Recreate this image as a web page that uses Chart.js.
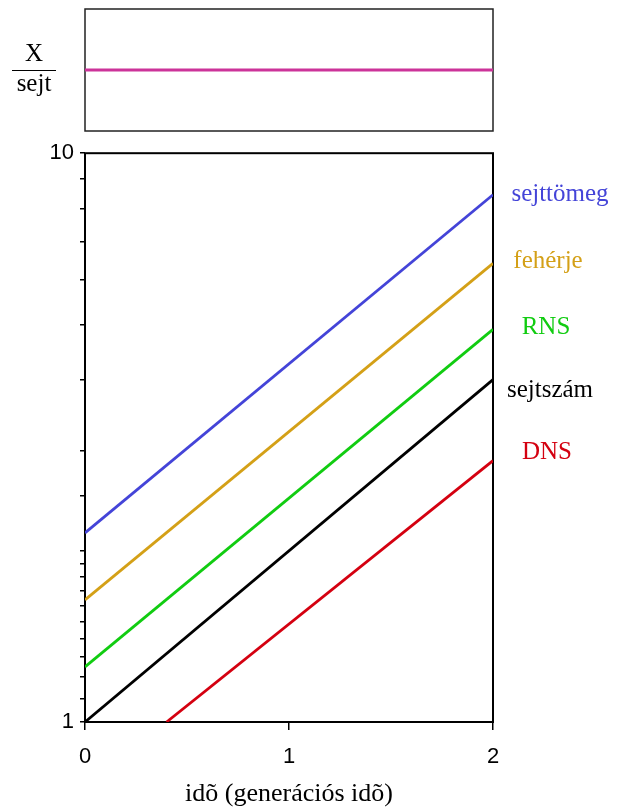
<!DOCTYPE html>
<html>
<head>
<meta charset="utf-8">
<script src="https://cdn.jsdelivr.net/npm/chart.js@4"></script>
<style>
  html, body { margin: 0; padding: 0; background: #fff; }
  #wrap { position: relative; width: 625px; height: 807px; overflow: hidden; }
  #top-chart { position: absolute; left: 0; top: 0; }
  #main-chart { position: absolute; left: 0; top: 134px; }
</style>
</head>
<body>
<div id="wrap">
  <canvas id="top-chart" width="625" height="140"></canvas>
  <canvas id="main-chart" width="625" height="673"></canvas>
</div>
<script>
// idő, generációs időben
const times = [0, 2];
const perCell = [1, 1];            // X / sejt, állandó
const sejttomeg = [2.15, 8.45];
const feherje = [1.64, 6.4];
const rns = [1.25, 4.9];
const sejtszam = [1, 4];
const dnsTimes = [0.4, 2];
const dns = [1, 2.88];
const xTicks = [0, 1, 2];
const yTickLabels = [1, 10];

const serif = 'Liberation Serif';
const sans = 'Liberation Sans';

function points(xs, ys) {
    return xs.map((x, i) => ({ x: x, y: ys[i] }));
}

// keret a rajzterület körül
const frame = {
    id: 'frame',
    beforeDatasetsDraw(chart, args, opts) {
        const { ctx, chartArea: a } = chart;
        ctx.save();
        ctx.strokeStyle = opts.color || '#000';
        ctx.lineWidth = opts.width || 2;
        ctx.strokeRect(a.left, a.top, a.width, a.height);
        ctx.restore();
    }
};

// X / sejt felirat a felső doboz bal oldalán
const fraction = {
    id: 'fraction',
    afterDraw(chart) {
        const { ctx, chartArea: a } = chart;
        const cx = a.left - 51;
        const midY = (a.top + a.bottom) / 2;
        ctx.save();
        ctx.fillStyle = '#000';
        ctx.font = `25px "${serif}"`;
        ctx.textAlign = 'center';
        ctx.textBaseline = 'alphabetic';
        ctx.fillText('X', cx, midY - 9);
        ctx.fillText('sejt', cx, midY + 21);
        ctx.strokeStyle = '#000';
        ctx.lineWidth = 1;
        ctx.beginPath();
        ctx.moveTo(cx - 22, midY + 0.5);
        ctx.lineTo(cx + 22, midY + 0.5);
        ctx.stroke();
        ctx.restore();
    }
};

// sorozatnevek a jobb oldalon, a vonalak végénél
const seriesLabels = {
    id: 'seriesLabels',
    afterDatasetsDraw(chart) {
        const { ctx, chartArea: a, scales } = chart;
        ctx.save();
        ctx.font = `25px "${serif}"`;
        ctx.textAlign = 'center';
        ctx.textBaseline = 'alphabetic';
        chart.data.datasets.forEach(ds => {
            const last = ds.data[ds.data.length - 1];
            ctx.fillStyle = ds.borderColor;
            ctx.fillText(ds.label, a.right + 55 + ds.labelDx, scales.y.getPixelForValue(last.y) + ds.labelDy);
        });
        ctx.restore();
    }
};

function line(label, data, color, dx, dy) {
    return {
        label: label,
        data: data,
        borderColor: color,
        borderWidth: 2.8,
        pointRadius: 0,
        tension: 0,
        fill: false,
        labelDx: dx,
        labelDy: dy
    };
}

new Chart(document.getElementById('top-chart'), {
    type: 'line',
    data: {
        datasets: [{
            data: points(times, perCell),
            borderColor: '#cc3399',
            borderWidth: 3,
            pointRadius: 0,
            fill: false
        }]
    },
    options: {
        responsive: false,
        animation: false,
        layout: { padding: { left: 85, right: 132, top: 9, bottom: 9 } },
        plugins: { legend: { display: false }, tooltip: { enabled: false }, frame: { color: '#222', width: 1.5 } },
        scales: {
            x: { type: 'linear', min: 0, max: 2, display: false },
            y: { type: 'linear', min: 0, max: 2, display: false }
        }
    },
    plugins: [frame, fraction]
});

new Chart(document.getElementById('main-chart'), {
    type: 'line',
    data: {
        datasets: [
            line('sejttömeg', points(times, sejttomeg), '#4444d8', 12, 6),
            line('fehérje', points(times, feherje), '#d4a017', 0, 5),
            line('RNS', points(times, rns), '#11cc11', -2, 5),
            line('sejtszám', points(times, sejtszam), '#000000', 2, 17),
            line('DNS', points(dnsTimes, dns), '#d40010', -1, -2)
        ]
    },
    options: {
        responsive: false,
        animation: false,
        layout: { padding: { left: 45, right: 132, top: 13, bottom: 0 } },
        plugins: { legend: { display: false }, tooltip: { enabled: false }, frame: { color: '#000', width: 2 } },
        scales: {
            x: {
                type: 'linear', min: 0, max: 2,
                afterFit: s => { s.height = 85; },
                ticks: {
                    stepSize: 1, padding: 14, color: '#000',
                    font: { family: sans, size: 22 },
                    callback: v => xTicks.includes(v) ? String(v) : ''
                },
                grid: { drawOnChartArea: false, drawTicks: true, tickLength: 8, color: '#000', lineWidth: 1.5 },
                border: { display: false },
                title: {
                    display: true, text: 'idõ (generációs idõ)', color: '#000',
                    font: { family: serif, size: 26, lineHeight: 1 }, padding: 0
                }
            },
            y: {
                type: 'logarithmic', min: 1, max: 10,
                afterFit: s => { s.width = 40; },
                ticks: {
                    autoSkip: false, padding: 6, color: '#000',
                    font: { family: sans, size: 22 },
                    callback: v => yTickLabels.includes(v) ? String(v) : ''
                },
                grid: { drawOnChartArea: false, drawTicks: true, tickLength: 5, color: '#000', lineWidth: 1.5 },
                border: { display: false }
            }
        }
    },
    plugins: [frame, seriesLabels]
});
</script>
</body>
</html>
